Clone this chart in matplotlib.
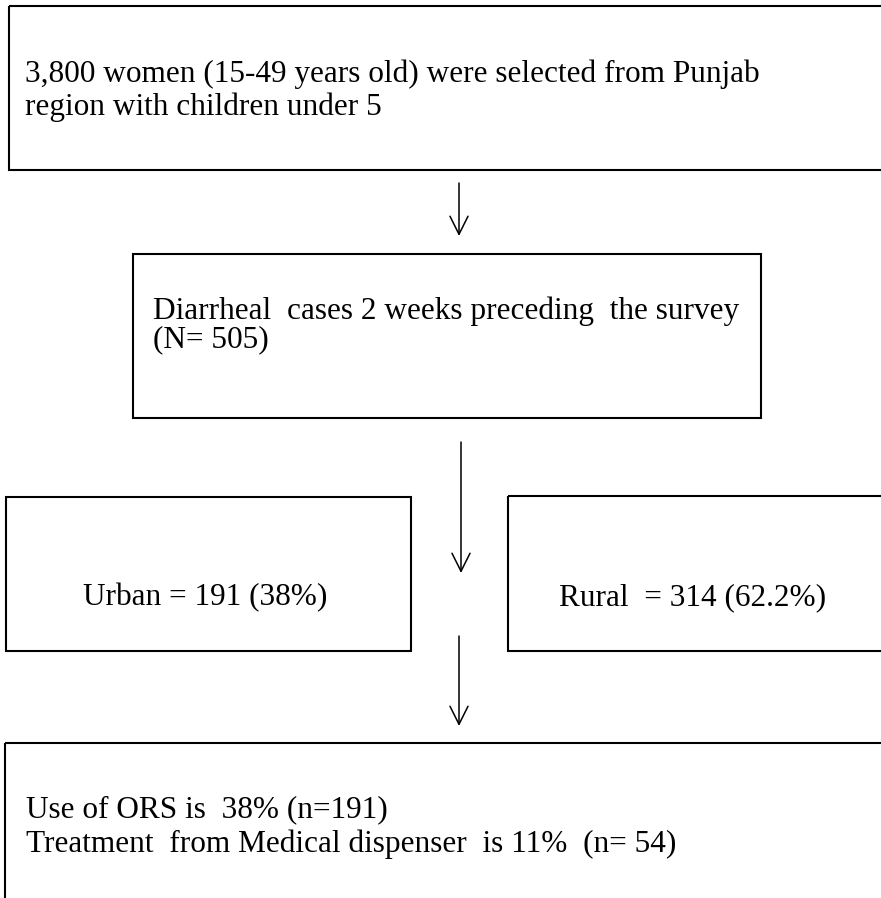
import matplotlib
matplotlib.use("Agg")
import matplotlib.pyplot as plt
from matplotlib.patches import Rectangle

W, H = 881, 898

# Flowchart content
box_texts = [
    ["3,800 women (15-49 years old) were selected from Punjab",
     "region with children under 5"],
    ["Diarrheal  cases 2 weeks preceding  the survey",
     "(N= 505)"],
    ["Urban = 191 (38%)"],
    ["Rural  = 314 (62.2%)"],
    ["Use of ORS is  38% (n=191)",
     "Treatment  from Medical dispenser  is 11%  (n= 54)"],
]

# box geometry in pixel units (left, top, right, bottom)
boxes = [
    (9, 6, 895, 170),
    (133, 254, 761, 418),
    (6, 497, 411, 651),
    (508, 496, 895, 651),
    (5, 743, 895, 910),
]
# text anchor (left x, first baseline y, line spacing)
text_pos = [
    (25, 82, 33),
    (153, 319, 28),
    (83, 605, 0),
    (559, 605, 0),
    (26, 817, 35),
]
# arrows (x, y_start, y_end)
arrows = [
    (459, 183, 236),
    (461, 442, 573),
    (459, 636, 726),
]

fig = plt.figure(figsize=(W / 100, H / 100), dpi=100)
ax = fig.add_axes([0, 0, 1, 1])
ax.set_xlim(0, W)
ax.set_ylim(H, 0)
ax.axis("off")

for (l, t, r, b) in boxes:
    ax.add_patch(Rectangle((l, t), r - l, b - t, fill=False,
                           edgecolor="black", linewidth=1.5))

for lines, (x, y, dy) in zip(box_texts, text_pos):
    for i, line in enumerate(lines):
        ax.text(x, y + i * dy, line, ha="left", va="baseline",
                fontsize=22.5, family="Liberation Serif", color="black")

for (x, y0, y1) in arrows:
    ax.annotate("", xy=(x, y1), xytext=(x, y0),
                arrowprops=dict(arrowstyle="->,head_length=1.3,head_width=0.65",
                                color="black", lw=1.1,
                                shrinkA=0, shrinkB=0))

fig.savefig("out.png", dpi=100)
